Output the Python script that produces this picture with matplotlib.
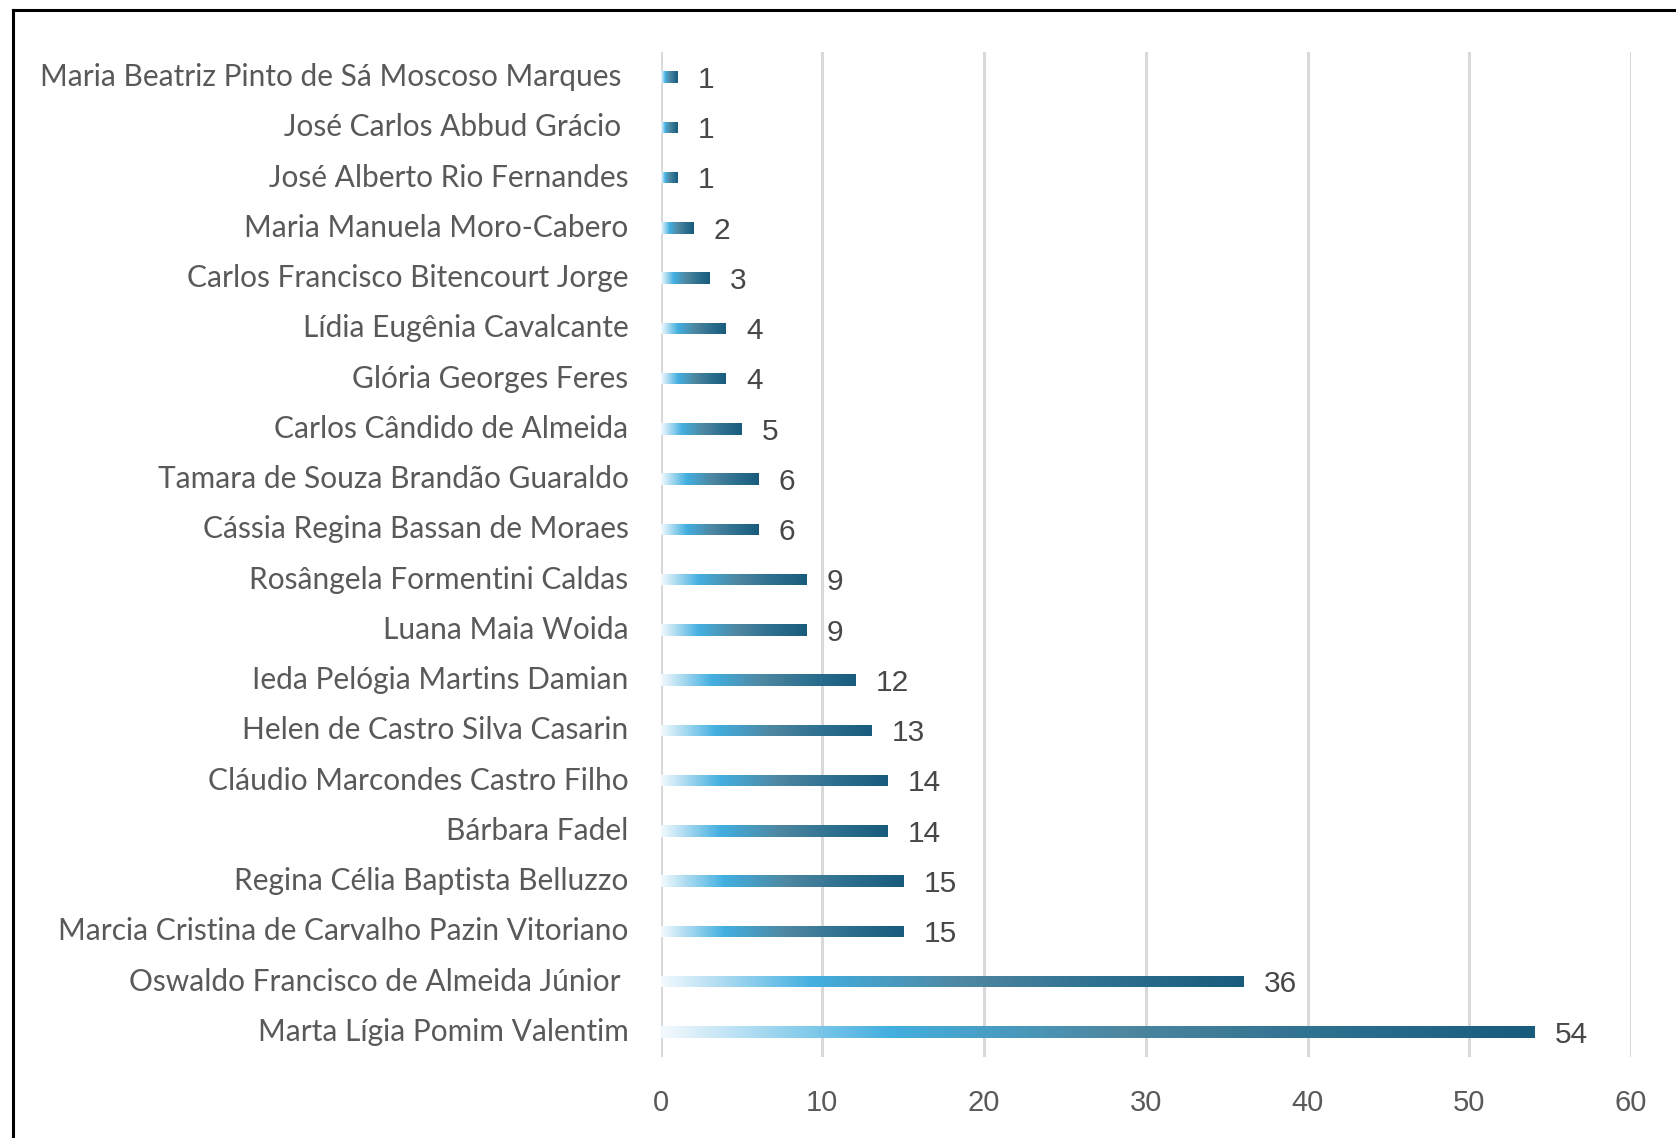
import matplotlib
matplotlib.use("Agg")
import matplotlib.pyplot as plt
import numpy as np
from matplotlib.colors import LinearSegmentedColormap
from matplotlib.lines import Line2D

names = [
    "Marta Lígia Pomim Valentim",
    "Oswaldo Francisco de Almeida Júnior ",
    "Marcia Cristina de Carvalho Pazin Vitoriano",
    "Regina Célia Baptista Belluzzo",
    "Bárbara Fadel",
    "Cláudio Marcondes Castro Filho",
    "Helen de Castro Silva Casarin",
    "Ieda Pelógia Martins Damian",
    "Luana Maia Woida",
    "Rosângela Formentini Caldas",
    "Cássia Regina Bassan de Moraes",
    "Tamara de Souza Brandão Guaraldo",
    "Carlos Cândido de Almeida",
    "Glória Georges Feres",
    "Lídia Eugênia Cavalcante",
    "Carlos Francisco Bitencourt Jorge",
    "Maria Manuela Moro-Cabero",
    "José Alberto Rio Fernandes",
    "José Carlos Abbud Grácio ",
    "Maria Beatriz Pinto de Sá Moscoso Marques ",
]
values = [54, 36, 15, 15, 14, 14, 13, 12, 9, 9, 6, 6, 5, 4, 4, 3, 2, 1, 1, 1]
xticks = [0, 10, 20, 30, 40, 50, 60]

W, H = 1676, 1138
fig = plt.figure(figsize=(W / 100, H / 100), dpi=100)
ax = fig.add_axes([660.5 / W, 1 - 1057 / H, (1631 - 660.5) / W, (1057 - 52) / H])

cmap = LinearSegmentedColormap.from_list(
    "grad",
    [(0.0, "#f2f9fd"), (0.26, "#43afe0"), (0.52, "#4e87a1"), (0.78, "#2b6e8e"), (1.0, "#195b7c")],
)
grad = np.linspace(0, 1, 256).reshape(1, -1)

y = np.arange(len(values))
bh = 0.23
bars = ax.barh(y, values, height=bh, color="none", edgecolor="none", zorder=3)
for bar, v, yi in zip(bars, values, y):
    im = ax.imshow(grad, cmap=cmap, aspect="auto", extent=[0, v, yi - bh / 2, yi + bh / 2],
                   zorder=3, interpolation="bilinear")
    im.set_clip_path(bar)
    ax.annotate(str(v), xy=(v, yi), xytext=(15, -2), textcoords="offset points",
                ha="left", va="center", fontsize=21.5, color="#474747",
                family=["Liberation Sans", "DejaVu Sans"])

ax.set_xlim(0, 60)
ax.set_ylim(-0.5, len(values) - 0.5)
ax.set_xticks(xticks)
ax.set_xticklabels([str(t) for t in xticks], fontsize=21, color="#595959",
                   family=["Liberation Sans", "DejaVu Sans"])
ax.set_yticks(y)
ax.set_yticklabels(names, fontsize=21.5, color="#595959", family=["Lato", "DejaVu Sans"],
                   va="center")
for lbl in ax.get_yticklabels():
    lbl.set_y(lbl.get_position()[1])
ax.tick_params(axis="both", length=0)
ax.tick_params(axis="y", pad=23)
ax.tick_params(axis="x", pad=23)
for s in ax.spines.values():
    s.set_visible(False)
ax.grid(axis="x", color="#d9d9d9", linewidth=2.2, zorder=0)
ax.set_axisbelow(True)

# outer border (cropped box)
fig.add_artist(Line2D([13 / W, 1.0], [1 - 10 / H, 1 - 10 / H], transform=fig.transFigure,
                      color="black", linewidth=2.2))
fig.add_artist(Line2D([13 / W, 13 / W], [0.0, 1 - 10 / H], transform=fig.transFigure,
                      color="black", linewidth=2.2))

fig.savefig("out.png", dpi=100, facecolor="white")
